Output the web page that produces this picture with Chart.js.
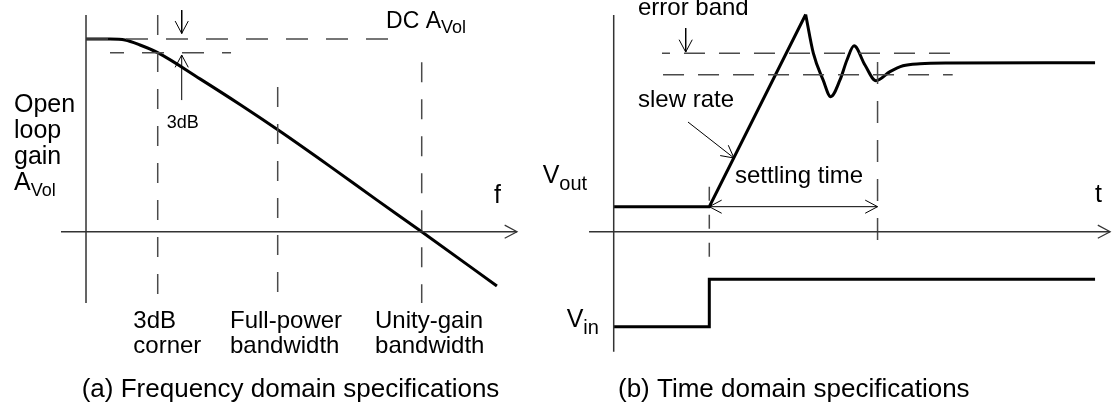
<!DOCTYPE html>
<html>
<head>
<meta charset="utf-8">
<script src="https://cdn.jsdelivr.net/npm/chart.js@4.4.1/dist/chart.umd.min.js"></script>
<style>
  html, body { margin: 0; padding: 0; background: #ffffff; }
  #wrap { width: 1112px; height: 408px; }
</style>
</head>
<body>
<div id="wrap"><canvas id="c" width="1112" height="408"></canvas></div>
<script>
// ---------- (a) Frequency domain: x = log-frequency units, y = gain units ----------
const gainCurveF  = [0, 0.715, 1.162, 1.609, 2.136, 3.396, 4.587, 5.779, 7.268, 8.659, 10.0, 12.24];
const gainCurveDb = [100, 100, 99.5, 96.9, 92.9, 79.3, 66.0, 52.1, 33.9, 16.5, 0, -28.2];
const dcGain = 100;
const gain3dB = 92.9;
const freqMarkerF   = [2.136, 5.71, 10.0];      // 3dB corner, full-power bw, unity-gain bw
const freqMarkerTop = [112.45, 75.1, 88.0];
const freqMarkerBottom = -37.0;
const freqMarkerNames = [['3dB', 'corner'], ['Full-power', 'bandwidth'], ['Unity-gain', 'bandwidth']];

// ---------- (b) Time domain: x = time units, y = voltage units ----------
const voutT = [0, 1, 2.008];
const voutV = [1.48, 1.48, 12.85];
const ringT = [2.008, 2.088, 2.19, 2.27, 2.367, 2.44, 2.514, 2.628, 2.743, 2.89, 3.026, 3.204, 3.518, 5.035];
const ringV = [12.85, 10.56, 8.98, 7.99, 8.98, 10.16, 11.0, 9.86, 8.93, 9.47, 9.82, 9.94, 9.98, 10.0];
const vinT = [0, 1, 1, 5.035];
const vinV = [-5.62, -5.62, -2.82, -2.82];
const errorBandV = [10.56, 9.29];
const stepTime = 1.0;
const settlingTime = 2.76;

// ---------- helpers ----------
const zip = (xs, ys) => xs.map((x, i) => ({ x: x, y: ys[i] }));
const INK = '#000000';
const AXIS = '#333333';
const DASH = '#4a4a4a';

function seg(panel, pts, opts) {
  const a = panel === 'a';
  return Object.assign({
    xAxisID: a ? 'x' : 'xb',
    yAxisID: a ? 'y' : 'yb',
    data: pts,
    showLine: true,
    fill: false,
    pointRadius: 0,
    pointHoverRadius: 0,
    borderColor: INK,
    borderWidth: 1,
    tension: 0,
    clip: false
  }, opts || {});
}

const datasets = [];
// panel (a)
datasets.push(seg('a', [{x: 0, y: freqMarkerTop[0]}, {x: 0, y: freqMarkerBottom}], {borderColor: AXIS, borderWidth: 1.5}));
datasets.push(seg('a', [{x: -0.745, y: 0}, {x: 12.84, y: 0}], {borderColor: AXIS, borderWidth: 1.5, arrowEnd: true}));
datasets.push(seg('a', [{x: 0, y: dcGain}, {x: 9.145, y: dcGain}], {borderColor: DASH, borderWidth: 1.5, borderDash: [22, 18]}));
datasets.push(seg('a', [{x: 0.715, y: gain3dB}, {x: 4.32, y: gain3dB}], {borderColor: DASH, borderWidth: 1.5, borderDash: [22, 18], borderDashOffset: 8}));
freqMarkerF.forEach((f, i) => {
  datasets.push(seg('a', [{x: f, y: freqMarkerTop[i]}, {x: f, y: freqMarkerBottom}], {borderColor: DASH, borderWidth: 1.5, borderDash: [20, 17]}));
});
datasets.push(seg('a', [{x: 2.851, y: 115}, {x: 2.851, y: 102.9}], {arrowEnd: true}));
datasets.push(seg('a', [{x: 2.851, y: 68.3}, {x: 2.851, y: 91.7}], {arrowEnd: true}));
datasets.push(seg('a', zip(gainCurveF, gainCurveDb), {borderWidth: 3, cubicInterpolationMode: 'monotone'}));

// panel (b)
datasets.push(seg('b', [{x: 0, y: 12.82}, {x: 0, y: -7.10}], {borderColor: AXIS, borderWidth: 1.5}));
datasets.push(seg('b', [{x: -0.258, y: 0}, {x: 5.193, y: 0}], {borderColor: AXIS, borderWidth: 1.5, arrowEnd: true}));
datasets.push(seg('b', [{x: 0.505, y: errorBandV[0]}, {x: 3.53, y: errorBandV[0]}], {borderColor: DASH, borderWidth: 1.5, borderDash: [21, 14], borderDashOffset: 13}));
datasets.push(seg('b', [{x: 0.516, y: errorBandV[1]}, {x: 3.546, y: errorBandV[1]}], {borderColor: DASH, borderWidth: 1.5, borderDash: [21, 14]}));
datasets.push(seg('b', [{x: settlingTime, y: 10.04}, {x: settlingTime, y: -1.44}], {borderColor: DASH, borderWidth: 1.5, borderDash: [22, 17]}));
datasets.push(seg('b', [{x: stepTime, y: 2.66}, {x: stepTime, y: -2.27}], {borderColor: DASH, borderWidth: 1.5, borderDash: [14, 14]}));
datasets.push(seg('b', [{x: stepTime, y: voutV[0]}, {x: settlingTime, y: voutV[0]}], {arrowStart: true, arrowEnd: true}));
datasets.push(seg('b', [{x: 0.753, y: 12.05}, {x: 0.753, y: 10.63}], {arrowEnd: true}));
datasets.push(seg('b', [{x: 0.777, y: 6.49}, {x: 1.258, y: 4.36}], {arrowEnd: true}));
datasets.push(seg('b', zip(voutT, voutV), {borderWidth: 3, borderJoinStyle: 'miter'}));
datasets.push(seg('b', zip(ringT, ringV), {borderWidth: 3, cubicInterpolationMode: 'monotone'}));
datasets.push(seg('b', zip(vinT, vinV), {borderWidth: 3, borderJoinStyle: 'miter'}));

// ---------- text annotations (anchor in data units, left/baseline) ----------
const FONT = '"Liberation Sans", Arial, Helvetica, sans-serif';
const labels = [
  {p: 'a', x: -2.145, y: 62.1, parts: [['Open', 25]]},
  {p: 'a', x: -2.145, y: 48.8, parts: [['loop', 25]]},
  {p: 'a', x: -2.145, y: 35.3, parts: [['gain', 25]]},
  {p: 'a', x: -2.145, y: 21.8, parts: [['A', 25], ['Vol', 18, 6]]},
  {p: 'a', x: 2.404, y: 53.7, parts: [['3dB', 18]]},
  {p: 'a', x: 8.937, y: 105.6, parts: [['DC A', 23], ['Vol', 18, 5]]},
  {p: 'a', x: 12.15, y: 15.0, parts: [['f', 25]]},
  {p: 'a', x: 1.409, y: -50.1, parts: [[freqMarkerNames[0][0], 24]]},
  {p: 'a', x: 1.409, y: -63.1, parts: [[freqMarkerNames[0][1], 24]]},
  {p: 'a', x: 4.29, y: -50.1, parts: [[freqMarkerNames[1][0], 24]]},
  {p: 'a', x: 4.29, y: -63.1, parts: [[freqMarkerNames[1][1], 24]]},
  {p: 'a', x: 8.61, y: -50.1, parts: [[freqMarkerNames[2][0], 24]]},
  {p: 'a', x: 8.61, y: -63.1, parts: [[freqMarkerNames[2][1], 24]]},
  {p: 'a', x: -0.128, y: -85.6, parts: [['(a) Frequency domain specifications', 26]]},
  {p: 'b', x: 0.254, y: 12.82, parts: [['error band', 24]]},
  {p: 'b', x: 0.254, y: 7.40, parts: [['slew rate', 24]]},
  {p: 'b', x: 1.269, y: 2.90, parts: [['settling time', 24]]},
  {p: 'b', x: -0.743, y: 2.90, parts: [['V', 25], ['out', 20, 7]]},
  {p: 'b', x: -0.492, y: -5.62, parts: [['V', 25], ['in', 20, 7]]},
  {p: 'b', x: 5.035, y: 1.74, parts: [['t', 25]]},
  {p: 'b', x: 0.045, y: -9.78, parts: [['(b) Time domain specifications', 26]]}
];

const arrowPlugin = {
  id: 'arrowHeads',
  afterDatasetsDraw(chart) {
    const ctx = chart.ctx;
    const L = 14, TH = 28 * Math.PI / 180;
    chart.data.datasets.forEach((ds, i) => {
      if (!ds.arrowEnd && !ds.arrowStart) return;
      const pts = chart.getDatasetMeta(i).data;
      const head = (tip, from) => {
        const a = Math.atan2(tip.y - from.y, tip.x - from.x);
        ctx.beginPath();
        ctx.moveTo(tip.x - L * Math.cos(a - TH), tip.y - L * Math.sin(a - TH));
        ctx.lineTo(tip.x, tip.y);
        ctx.lineTo(tip.x - L * Math.cos(a + TH), tip.y - L * Math.sin(a + TH));
        ctx.stroke();
      };
      ctx.save();
      ctx.strokeStyle = ds.borderColor;
      ctx.lineWidth = Math.min(ds.borderWidth, 1.2);
      ctx.setLineDash([]);
      if (ds.arrowEnd) head(pts[pts.length - 1], pts[pts.length - 2]);
      if (ds.arrowStart) head(pts[0], pts[1]);
      ctx.restore();
    });
  }
};

const textPlugin = {
  id: 'textLabels',
  afterDraw(chart) {
    const ctx = chart.ctx;
    ctx.save();
    ctx.fillStyle = '#000';
    ctx.textBaseline = 'alphabetic';
    ctx.textAlign = 'left';
    labels.forEach(l => {
      const xs = chart.scales[l.p === 'a' ? 'x' : 'xb'];
      const ys = chart.scales[l.p === 'a' ? 'y' : 'yb'];
      let px = xs.getPixelForValue(l.x);
      const py = ys.getPixelForValue(l.y);
      l.parts.forEach(part => {
        ctx.font = part[1] + 'px ' + FONT;
        ctx.fillText(part[0], px, py + (part[2] || 0));
        px += ctx.measureText(part[0]).width;
      });
    });
    ctx.restore();
  }
};

new Chart(document.getElementById('c'), {
  type: 'scatter',
  data: { datasets: datasets },
  options: {
    responsive: false,
    animation: false,
    events: [],
    layout: { padding: 0 },
    plugins: { legend: { display: false }, tooltip: { enabled: false }, title: { display: false } },
    scales: {
      x:  { type: 'linear', display: false, min: -2.562, max: 30.563 },
      y:  { type: 'linear', display: false, min: -91.49, max: 120.24 },
      xb: { type: 'linear', axis: 'x', position: 'bottom', display: false, min: -6.4195, max: 5.2123 },
      yb: { type: 'linear', axis: 'y', position: 'left', display: false, min: -10.432, max: 13.710 }
    }
  },
  plugins: [arrowPlugin, textPlugin]
});
</script>
</body>
</html>
